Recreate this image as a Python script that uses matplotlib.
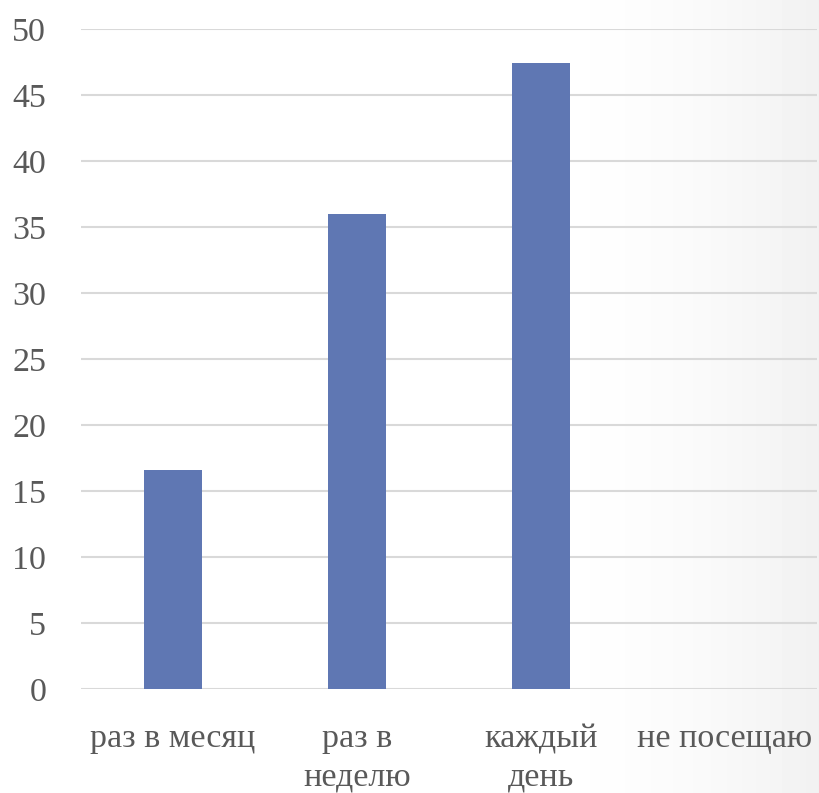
import matplotlib
matplotlib.use("Agg")
import matplotlib.pyplot as plt
import numpy as np

categories = ["раз в месяц", "раз в\nнеделю", "каждый\nдень", "не посещаю"]
values = [16.6, 36.0, 47.4, 0.0]
yticks = [0, 5, 10, 15, 20, 25, 30, 35, 40, 45, 50]

plt.rcParams['font.family'] = ['Liberation Serif', 'DejaVu Serif']

fig = plt.figure(figsize=(8.19, 7.93), dpi=100)

# subtle background gradient on the right side
bg = fig.add_axes([0, 0, 1, 1], zorder=-10)
w = 819
xs = np.linspace(0, 1, w)
grad = np.clip((xs - 0.62) / 0.38, 0, 1)
shade = 1 - 0.055 * grad ** 2
img = np.tile(shade, (50, 1))
bg.imshow(img, cmap='gray', vmin=0, vmax=1, aspect='auto', extent=[0, 1, 0, 1])
bg.set_axis_off()

ax = fig.add_axes([81 / 819, 104 / 793, 736 / 819, 660 / 793])
ax.patch.set_alpha(0)
x = np.arange(len(categories))
ax.bar(x, values, width=0.315, color='#5f77b3', zorder=3)
ax.set_xlim(-0.5, len(categories) - 0.5)
ax.set_ylim(0, 50)
ax.set_yticks(yticks)
ax.set_xticks(x)
ax.set_xticklabels(categories, linespacing=1.33)
ax.yaxis.grid(True, color='#d9d9d9', linewidth=1.5, zorder=0)
ax.set_axisbelow(True)
for s in ax.spines.values():
    s.set_visible(False)
ax.tick_params(axis='both', length=0, labelsize=24.5, colors='#595959')
ax.tick_params(axis='x', pad=25)
ax.tick_params(axis='y', pad=25)

fig.savefig("out.png", dpi=100)
